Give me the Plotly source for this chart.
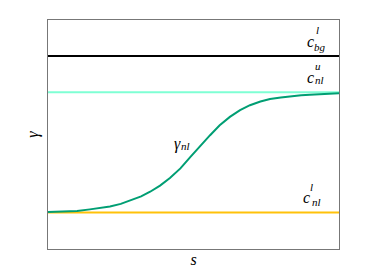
import plotly.graph_objects as go

# Data
s_vals = [0.0, 0.05, 0.10, 0.144, 0.18, 0.213, 0.25, 0.282, 0.32, 0.351, 0.385, 0.419, 0.455,
          0.488, 0.52, 0.557, 0.59, 0.625, 0.66, 0.694, 0.73, 0.763, 0.80, 0.832, 0.87, 0.90, 0.95, 1.0]
gamma_nl = [0.162, 0.164, 0.166, 0.173, 0.179, 0.186, 0.197, 0.211, 0.230, 0.250, 0.277, 0.310, 0.352,
            0.400, 0.447, 0.497, 0.540, 0.577, 0.606, 0.628, 0.644, 0.655, 0.662, 0.667, 0.671, 0.674, 0.677, 0.680]
c_bg_l = 0.843
c_nl_u = 0.684
c_nl_l = 0.159

FONT = "Liberation Serif"

fig = go.Figure()
fig.add_trace(go.Scatter(x=[0, 1], y=[c_bg_l, c_bg_l], mode="lines",
                         line=dict(color="black", width=2), showlegend=False, hoverinfo="skip"))
fig.add_trace(go.Scatter(x=[0, 1], y=[c_nl_u, c_nl_u], mode="lines",
                         line=dict(color="#7fffd4", width=2), showlegend=False, hoverinfo="skip"))
fig.add_trace(go.Scatter(x=[0, 1], y=[c_nl_l, c_nl_l], mode="lines",
                         line=dict(color="#ffc20a", width=2), showlegend=False, hoverinfo="skip"))
fig.add_trace(go.Scatter(x=s_vals, y=gamma_nl, mode="lines",
                         line=dict(color="#009e73", width=2), showlegend=False, hoverinfo="skip"))


def label(x, y, base, sup, sub, dy_base, dy_sup, dy_sub, dx_sup, dx_sub):
    fig.add_annotation(x=x, y=y, text=f"<i>{base}</i>", showarrow=False,
                       xanchor="center", yanchor="middle", yshift=dy_base,
                       font=dict(family=FONT, size=16, color="black"))
    if sup:
        fig.add_annotation(x=x, y=y, text=f"<i>{sup}</i>", showarrow=False,
                           xanchor="center", yanchor="middle", yshift=dy_sup, xshift=dx_sup,
                           font=dict(family=FONT, size=11, color="black"))
    if sub:
        fig.add_annotation(x=x, y=y, text=f"<i>{sub}</i>", showarrow=False,
                           xanchor="center", yanchor="middle", yshift=dy_sub, xshift=dx_sub,
                           font=dict(family=FONT, size=11, color="black"))


label(0.902, c_bg_l, "c", "l", "bg", 14, 26, 9, 7, 10)
label(0.902, c_nl_u, "c", "u", "nl", 15, 26, 12, 8, 9)
label(0.89, c_nl_l, "c", "l", "nl", 15, 26, 11, 5, 10)
label(0.444, 0.46, "γ", None, "nl", 0, 0, -2, 0, 8)

fig.update_layout(
    width=366, height=272,
    margin=dict(l=40, r=35, t=12, b=31),
    plot_bgcolor="white", paper_bgcolor="white",
    font=dict(family=FONT, color="black"),
)
fig.update_xaxes(range=[0, 1], showticklabels=False, ticks="", showgrid=False, zeroline=False,
                 showline=True, mirror=True, linecolor="#777777", linewidth=1.3,
                 title=dict(text="<i>s</i>", font=dict(family=FONT, size=16), standoff=4))
fig.update_yaxes(range=[0, 1], showticklabels=False, ticks="", showgrid=False, zeroline=False,
                 showline=True, mirror=True, linecolor="#777777", linewidth=1.3,
                 title=dict(text="<i>γ</i>", font=dict(family=FONT, size=16), standoff=4))

fig.write_html("out.html")
